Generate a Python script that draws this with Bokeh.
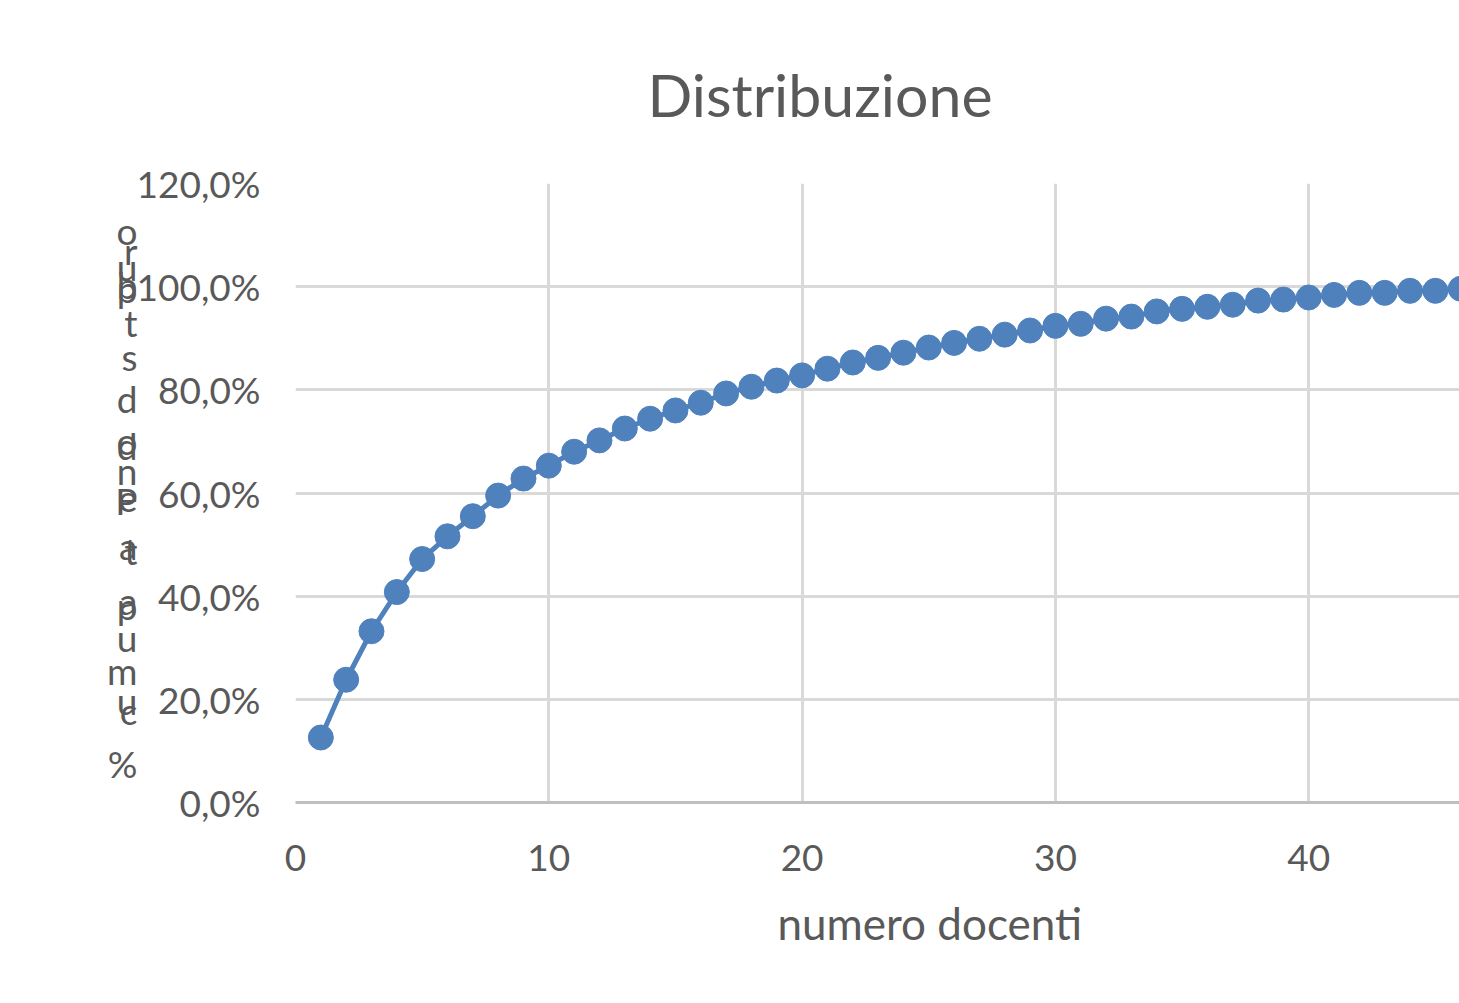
from bokeh.plotting import figure
from bokeh.models import (Range1d, FixedTicker, CustomJSTickFormatter,
                          ColumnDataSource, Title, LinearAxis)
from bokeh.embed import file_html
from bokeh.resources import INLINE

# ---------------- data ----------------
docenti = list(range(1, 47))
cumulata = [12.6, 23.8, 33.2, 40.8, 47.2, 51.6, 55.5, 59.5, 62.8, 65.3,
            68.0, 70.2, 72.5, 74.4, 76.0, 77.5, 79.3, 80.6, 81.8, 82.8,
            84.1, 85.3, 86.2, 87.2, 88.2, 89.1, 89.9, 90.7, 91.5, 92.4,
            92.8, 93.8, 94.2, 95.2, 95.7, 96.1, 96.5, 97.3, 97.5, 97.9,
            98.4, 98.8, 98.8, 99.2, 99.2, 99.6]
x_ticks = [0, 10, 20, 30, 40]
y_ticks = [0, 20, 40, 60, 80, 100, 120]
title_text = "Distribuzione"
x_title = "numero docenti"
# stacked (overlapping) glyphs of the vertical y-axis title, top to bottom
y_title_glyphs = ["o", "r", "u", "p", "b", "t", "s", "d", "o", "d", "n",
                  "e", "P", "a", "t", "a", "p", "u", "m", "u", "c", "%"]
# ---------------------------------------

FONT = "Lato"
GREY = "#595959"
BLUE = "#4f81bd"

W, H = 1459, 1003
frame_left, frame_top, frame_bottom = 295, 183, 802
px_per_x = 25.33
px_per_y = (frame_bottom - frame_top) / 120.0
x_end = (W - frame_left) / px_per_x

p = figure(width=W, height=H, output_backend="svg", toolbar_location=None,
           x_range=Range1d(0, x_end), y_range=Range1d(0, 120),
           min_border_left=frame_left, min_border_right=0,
           min_border_top=frame_top, min_border_bottom=H - frame_bottom)
p.outline_line_color = None
p.background_fill_color = "white"
p.border_fill_color = "white"

# axes
p.xaxis.ticker = FixedTicker(ticks=x_ticks)
p.yaxis.ticker = FixedTicker(ticks=y_ticks)
p.yaxis.formatter = CustomJSTickFormatter(
    code="return tick.toFixed(1).replace('.', ',') + '%';")
for ax in (p.xaxis, p.yaxis):
    ax.major_tick_line_color = None
    ax.minor_tick_line_color = None
    ax.major_label_text_font = FONT
    ax.major_label_text_font_size = "37px"
    ax.major_label_text_color = GREY
p.yaxis.axis_line_color = None
p.yaxis.major_label_standoff = 29
p.xaxis.axis_line_color = "#bfbfbf"
p.xaxis.axis_line_width = 3
p.xaxis.major_label_standoff = 36

p.xgrid.grid_line_color = "#d9d9d9"
p.xgrid.grid_line_width = 3
p.ygrid.grid_line_color = "#d9d9d9"
p.ygrid.grid_line_width = 3

# y axis title: stacked glyphs drawn as labels of an extra left axis
glyph_px = [230, 250, 266, 288, 284, 322, 356, 398, 440, 445, 470,
            497, 500, 545, 550, 600, 605, 637, 670, 700, 710, 763]
glyph_pos = [(frame_bottom - py) / px_per_y for py in glyph_px]
title_axis = LinearAxis(
    ticker=FixedTicker(ticks=glyph_pos),
    formatter=CustomJSTickFormatter(
        args=dict(pos=glyph_pos, chars=y_title_glyphs),
        code="""
        let best = 0, d = 1e9;
        for (let i = 0; i < pos.length; i++) {
            const e = Math.abs(pos[i] - tick);
            if (e < d) { d = e; best = i; }
        }
        return chars[best];
        """),
    axis_line_color=None, major_tick_line_color=None,
    minor_tick_line_color=None, major_label_standoff=-10,
    major_label_text_font=FONT, major_label_text_font_size="37px",
    major_label_text_color=GREY)
p.add_layout(title_axis, "left")

# title (above) and x-axis title (below)
t = Title(text=title_text, text_font=FONT, text_font_size="59px",
          text_color=GREY, text_font_style="normal", align="left",
          offset=352, standoff=107)
p.add_layout(t, "above")
xt = Title(text=x_title, text_font=FONT, text_font_size="44px",
           text_color=GREY, text_font_style="normal", align="left",
           offset=482, standoff=42)
p.add_layout(xt, "below")

src = ColumnDataSource(dict(x=docenti, y=cumulata))
p.line("x", "y", source=src, line_color=BLUE, line_width=5)
p.scatter("x", "y", source=src, marker="circle", size=25,
          fill_color=BLUE, line_color=BLUE)

open("out.html", "w").write(file_html(p, INLINE))
